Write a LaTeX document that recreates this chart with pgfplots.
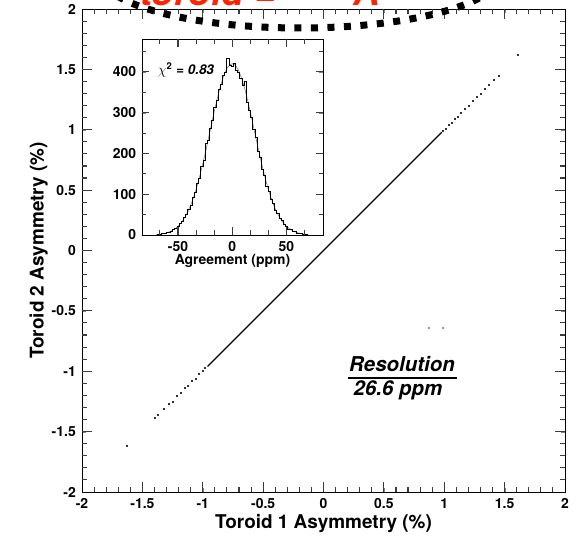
\documentclass[border=0pt]{standalone}
\usepackage{fontspec}
\setmainfont{TeX Gyre Heros}
\usepackage{pgfplots}
\pgfplotsset{compat=1.18}
\definecolor{redtxt}{RGB}{255,35,0}
\definecolor{axgray}{RGB}{60,60,60}
\begin{document}
\begin{tikzpicture}
% ---------------- main scatter ----------------
\begin{axis}[name=main, at={(0bp,0bp)}, anchor=south west, scale only axis,
  width=483bp, height=483bp,
  xmin=-2, xmax=2, ymin=-2, ymax=2,
  xtick={-2,-1.5,-1,-0.5,0,0.5,1,1.5,2},
  ytick={-2,-1.5,-1,-0.5,0,0.5,1,1.5,2},
  tick align=inside,
  every axis/.append style={line width=0.8bp},
  /pgf/number format/assume math mode=true,
  ticklabel style={font=\fontsize{14}{14}\selectfont\bfseries},
  xticklabel style={yshift=-3bp},
  yticklabel style={xshift=-2.5bp},
  xlabel={Toroid 1 Asymmetry (\%)},
  ylabel={Toroid 2 Asymmetry (\%)},
  label style={font=\fontsize{19}{19}\selectfont\bfseries},
  xlabel style={yshift=2bp},
  ylabel style={yshift=-3bp},
]
\addplot[black, line width=1.3bp] coordinates {(-0.96,-0.96) (0.98,0.98)};
\addplot[only marks, mark=square*, mark size=0.5bp, black!80] coordinates {
(-1.63,-1.62) (-1.40,-1.39) (-1.37,-1.36) (-1.32,-1.31) (-1.28,-1.27)
(-1.25,-1.25) (-1.21,-1.20) (-1.18,-1.18) (-1.15,-1.14) (-1.12,-1.12)
(-1.09,-1.08) (-1.06,-1.06) (-1.03,-1.02) (-1.00,-1.00) (-0.98,-0.97)
(0.99,0.99) (1.01,1.01) (1.04,1.04) (1.06,1.06) (1.09,1.09) (1.11,1.11)
(1.14,1.14) (1.17,1.17) (1.20,1.20) (1.24,1.24) (1.27,1.27) (1.30,1.30)
(1.34,1.34) (1.37,1.37) (1.41,1.41) (1.45,1.45) (1.61,1.62)};
\addplot[only marks, mark=square*, mark size=0.5bp, black!40] coordinates {(0.87,-0.64) (0.99,-0.64)};
\end{axis}
% ---------------- inset histogram ----------------
\begin{axis}[at={(59.7bp,257bp)}, anchor=south west, scale only axis,
  width=181.6bp, height=195.7bp,
  xmin=-83.5, xmax=84, ymin=0, ymax=480,
  xtick={-50,0,50}, ytick={0,100,200,300,400},
  tick align=inside,
  axis background/.style={fill=white},
  /pgf/number format/assume math mode=true,
  ticklabel style={font=\fontsize{14}{14}\selectfont\bfseries},
  xticklabel style={yshift=-3bp},
  yticklabel style={xshift=-2bp},
  xlabel={Agreement (ppm)},
  xlabel style={font=\fontsize{14}{14}\selectfont\bfseries, yshift=4bp},
]
\addplot[gray, line width=0.6bp, smooth] coordinates {
(-70,1.2) (-68,1.7) (-66,2.4) (-64,3.2) (-62,4.3) (-60,5.8) (-58,7.7) (-56,10.1)
(-54,13.1) (-52,16.8) (-50,21.5) (-48,27.1) (-46,33.9) (-44,42.0) (-42,51.5) (-40,62.6)
(-38,75.4) (-36,89.9) (-34,106.1) (-32,124.2) (-30,143.9) (-28,165.3) (-26,187.9) (-24,211.6)
(-22,236.1) (-20,260.9) (-18,285.6) (-16,309.7) (-14,332.6) (-12,353.9) (-10,372.9) (-8,389.2)
(-6,402.4) (-4,412.1) (-2,418.0) (0,420) (2,418.0) (4,412.1) (6,402.4) (8,389.2)
(10,372.9) (12,353.9) (14,332.6) (16,309.7) (18,285.6) (20,260.9) (22,236.1) (24,211.6)
(26,187.9) (28,165.3) (30,143.9) (32,124.2) (34,106.1) (36,89.9) (38,75.4) (40,62.6)
(42,51.5) (44,42.0) (46,33.9) (48,27.1) (50,21.5) (52,16.8) (54,13.1) (56,10.1)
(58,7.7) (60,5.8) (62,4.3) (64,3.2) (66,2.4) (68,1.7) (70,1.2)};
\addplot[black, line width=0.7bp, const plot mark mid] coordinates {
(-70,0) (-68,1) (-66,2) (-64,3) (-62,4) (-60,6) (-58,7) (-56,10) (-54,14) (-52,16)
(-50,20) (-48,28) (-46,33) (-44,43) (-42,50) (-40,64) (-38,73) (-36,92) (-34,104)
(-32,127) (-30,140) (-28,168) (-26,183) (-24,226) (-22,232) (-20,262) (-18,282)
(-16,313) (-14,330) (-12,357) (-10,370) (-8,392) (-6,398) (-4,434) (-2,416)
(0,414) (2,420) (4,405) (6,398) (8,385) (10,366) (12,378) (14,325) (16,305)
(18,288) (20,258) (22,240) (24,206) (26,190) (28,162) (30,146) (32,120) (34,108)
(36,88) (38,77) (40,60) (42,52) (44,40) (46,35) (48,26) (50,22) (52,15) (54,13)
(56,9) (58,8) (60,5) (62,4) (64,3) (66,2) (68,1) (70,1)};
\node[anchor=base west, font=\fontsize{13.5}{13.5}\selectfont\bfseries\itshape] at (axis description cs:0.07,0.82) {$\chi^{\mathbf{2}}$ = 0.83};
\end{axis}
% ---------------- tick marks (main frame) ----------------
\foreach \k in {1,...,39}{
  \pgfmathsetmacro\L{mod(\k,5)==0 ? 10 : 5}
  \draw[axgray, line width=1.1bp] (\k*12.075bp,0bp) -- ++(0bp,\L*1bp);
  \draw[axgray, line width=1.1bp] (\k*12.075bp,483bp) -- ++(0bp,-\L*1bp);
  \draw[axgray, line width=1.1bp] (0bp,\k*12.075bp) -- ++(\L*1bp,0bp);
  \draw[axgray, line width=1.1bp] (483bp,\k*12.075bp) -- ++(-\L*1bp,0bp);
}
% ---------------- tick marks (inset frame) ----------------
\foreach \x/\L in {77.9/4.5, 96.0/7.5, 114.1/4.5, 132.1/4.5, 150.2/7.5, 168.3/4.5, 186.3/4.5, 204.4/7.5, 222.5/4.5}{
  \draw[axgray, line width=1.1bp] (\x bp,257bp) -- ++(0bp,\L*1bp);
  \draw[axgray, line width=1.1bp] (\x bp,452.7bp) -- ++(0bp,-\L*1bp);
}
\foreach \y/\L in {277.4/4.5, 297.8/7.5, 318.2/4.5, 338.5/7.5, 358.9/4.5, 379.3/7.5, 399.7/4.5, 420.1/7.5, 440.5/4.5}{
  \draw[axgray, line width=1.1bp] (59.7bp,\y bp) -- ++(\L*1bp,0bp);
  \draw[axgray, line width=1.1bp] (241.3bp,\y bp) -- ++(-\L*1bp,0bp);
}
% ---------------- annotations ----------------
\node[anchor=base, font=\fontsize{20.5}{20.5}\selectfont\bfseries\itshape] at (320bp,120.3bp) {Resolution};
\draw[black, line width=1.6bp] (265.7bp,113.7bp) -- (374.7bp,113.7bp);
\node[anchor=base, font=\fontsize{20.5}{20.5}\selectfont\bfseries\itshape] at (316bp,96bp) {26.6 ppm};
\draw[black, line width=7bp, dash pattern=on 7bp off 9.5bp] (218bp,518bp) ellipse [x radius=200bp, y radius=54bp];
\node[anchor=base west, inner sep=0pt, text=redtxt, font=\fontsize{37}{37}\selectfont\bfseries\itshape] at (58bp,486bp) {toroid =};
\node[anchor=base west, inner sep=0pt, text=redtxt, font=\fontsize{37}{37}\selectfont\bfseries\itshape] at (271bp,486bp) {A};
\pgfresetboundingbox
\useasboundingbox (-82bp,-46bp) rectangle (501bp,492bp);
\end{tikzpicture}
\end{document}
